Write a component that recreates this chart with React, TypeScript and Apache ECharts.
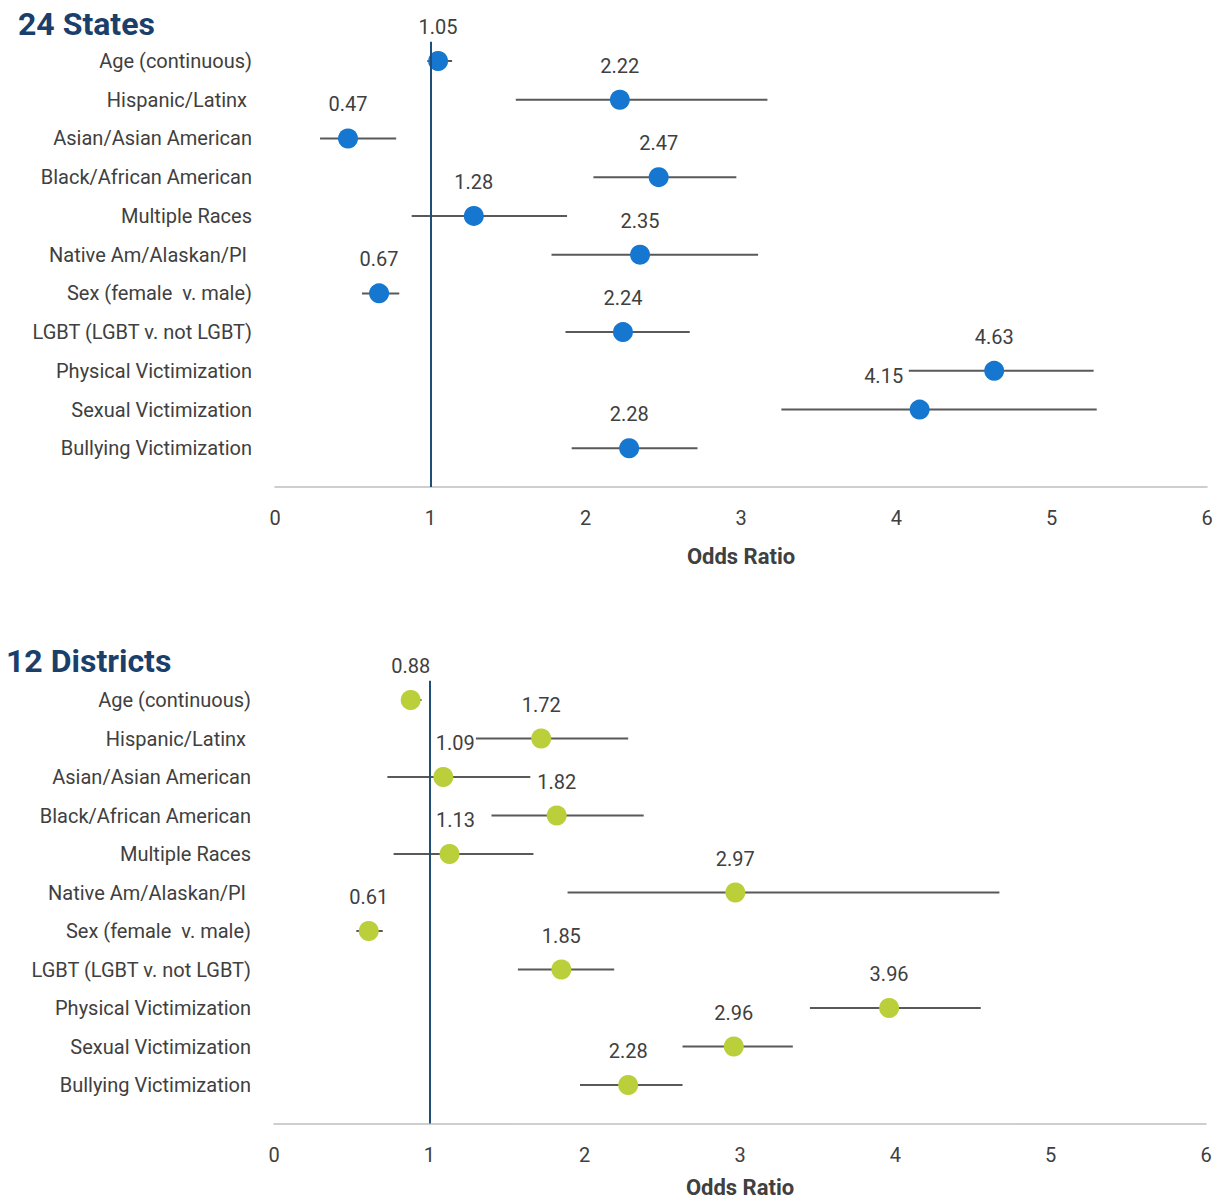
import React, { useEffect, useRef } from "react";
import * as echarts from "echarts";

const categories = [
  "Age (continuous)",
  "Hispanic/Latinx ",
  "Asian/Asian American",
  "Black/African American",
  "Multiple Races",
  "Native Am/Alaskan/PI ",
  "Sex (female  v. male)",
  "LGBT (LGBT v. not LGBT)",
  "Physical Victimization",
  "Sexual Victimization",
  "Bullying Victimization",
];

const statesOR = [1.05, 2.22, 0.47, 2.47, 1.28, 2.35, 0.67, 2.24, 4.63, 4.15, 2.28];
const statesLow = [0.98, 1.55, 0.29, 2.05, 0.88, 1.78, 0.56, 1.87, 4.08, 3.26, 1.91];
const statesHigh = [1.14, 3.17, 0.78, 2.97, 1.88, 3.11, 0.8, 2.67, 5.27, 5.29, 2.72];

const districtsOR = [0.88, 1.72, 1.09, 1.82, 1.13, 2.97, 0.61, 1.85, 3.96, 2.96, 2.28];
const districtsLow = [0.82, 1.3, 0.73, 1.4, 0.77, 1.89, 0.53, 1.57, 3.45, 2.63, 1.97];
const districtsHigh = [0.95, 2.28, 1.65, 2.38, 1.67, 4.67, 0.7, 2.19, 4.55, 3.34, 2.63];

const panelTitles = ["24 States", "12 Districts"];
const axisName = "Odds Ratio";

// label x-shifts (styling only)
const statesLabelDx: Record<number, number> = { 9: -36 };
const districtsLabelDx: Record<number, number> = { 2: 12, 4: 6 };

const FONT = 'Roboto, "Liberation Sans", sans-serif';
const TEXT = "#404040";
const NAVY = "#1F4E79";

export default function App() {
  const ref = useRef<HTMLDivElement>(null);
  useEffect(() => {
    document.body.style.margin = "0";
    if (!ref.current) return;
    const chart = echarts.init(ref.current, undefined, { renderer: "svg" });

    const grids = [
      { left: 275, right: 17, top: 22.3, height: 464.7, outerBoundsMode: "none", containLabel: false },
      { left: 274, right: 18, top: 661.5, height: 462, outerBoundsMode: "none", containLabel: false },
    ];

    const makeX = (i: number, gap: number) => ({
      type: "value",
      gridIndex: i,
      min: 0,
      max: 6,
      interval: 1,
      axisLine: { show: true, onZero: false, lineStyle: { color: "#BFBFBF", width: 1.5 } },
      axisTick: { show: false },
      splitLine: { show: false },
      axisLabel: { color: TEXT, fontSize: 20, fontFamily: FONT, margin: 21 },
      name: axisName,
      nameLocation: "middle",
      nameGap: gap,
      nameTextStyle: { color: TEXT, fontSize: 22, fontWeight: "bold", fontFamily: FONT },
    });
    const makeY = (i: number) => ({
      type: "value",
      gridIndex: i,
      min: 0,
      max: 12,
      interval: 1,
      inverse: true,
      axisLine: { show: false },
      axisTick: { show: false },
      splitLine: { show: false },
      axisLabel: {
        color: TEXT,
        fontSize: 20,
        fontFamily: FONT,
        margin: 23,
        formatter: (v: number) => categories[v - 1] ?? "",
      },
    });

    const ciSeries = (i: number, low: number[], high: number[]) => ({
      type: "custom",
      xAxisIndex: i,
      yAxisIndex: i,
      data: low.map((l, k) => [l, high[k], k + 1]),
      renderItem: (params: any, api: any) => {
        const p1 = api.coord([api.value(0), api.value(2)]);
        const p2 = api.coord([api.value(1), api.value(2)]);
        return {
          type: "line",
          shape: { x1: p1[0], y1: p1[1], x2: p2[0], y2: p2[1] },
          style: { stroke: "#595959", lineWidth: 2 },
        };
      },
      z: 2,
    });

    const pointSeries = (i: number, vals: number[], color: string, dx: Record<number, number>) => ({
      type: "scatter",
      xAxisIndex: i,
      yAxisIndex: i,
      symbolSize: 20,
      itemStyle: { color, opacity: 1 },
      z: 3,
      data: vals.map((v, k) => ({
        value: [v, k + 1],
        label: {
          show: true,
          position: "inside",
          offset: [dx[k] ?? 0, -34],
          formatter: v.toFixed(2),
          color: TEXT,
          fontSize: 20,
          fontFamily: FONT,
        },
      })),
      markLine: {
        silent: true,
        symbol: "none",
        label: { show: false },
        lineStyle: { color: NAVY, width: 2, type: "solid" },
        data: [[{ coord: [1, 0.5] }, { coord: [1, 12] }]],
      },
    });

    chart.setOption({
      animation: false,
      title: [
        {
          text: panelTitles[0],
          left: 13,
          top: 3,
          textStyle: { color: "#1B3F6B", fontSize: 32, fontWeight: "bold", fontFamily: FONT },
        },
        {
          text: panelTitles[1],
          left: 1,
          top: 640,
          textStyle: { color: "#1B3F6B", fontSize: 32, fontWeight: "bold", fontFamily: FONT },
        },
      ],
      grid: grids,
      xAxis: [makeX(0, 58), makeX(1, 53)],
      yAxis: [makeY(0), makeY(1)],
      series: [
        ciSeries(0, statesLow, statesHigh),
        pointSeries(0, statesOR, "#1577CF", statesLabelDx),
        ciSeries(1, districtsLow, districtsHigh),
        pointSeries(1, districtsOR, "#BACF3A", districtsLabelDx),
      ],
    });
    return () => chart.dispose();
  }, []);
  return <div ref={ref} style={{ width: 1224, height: 1203 }} />;
}
